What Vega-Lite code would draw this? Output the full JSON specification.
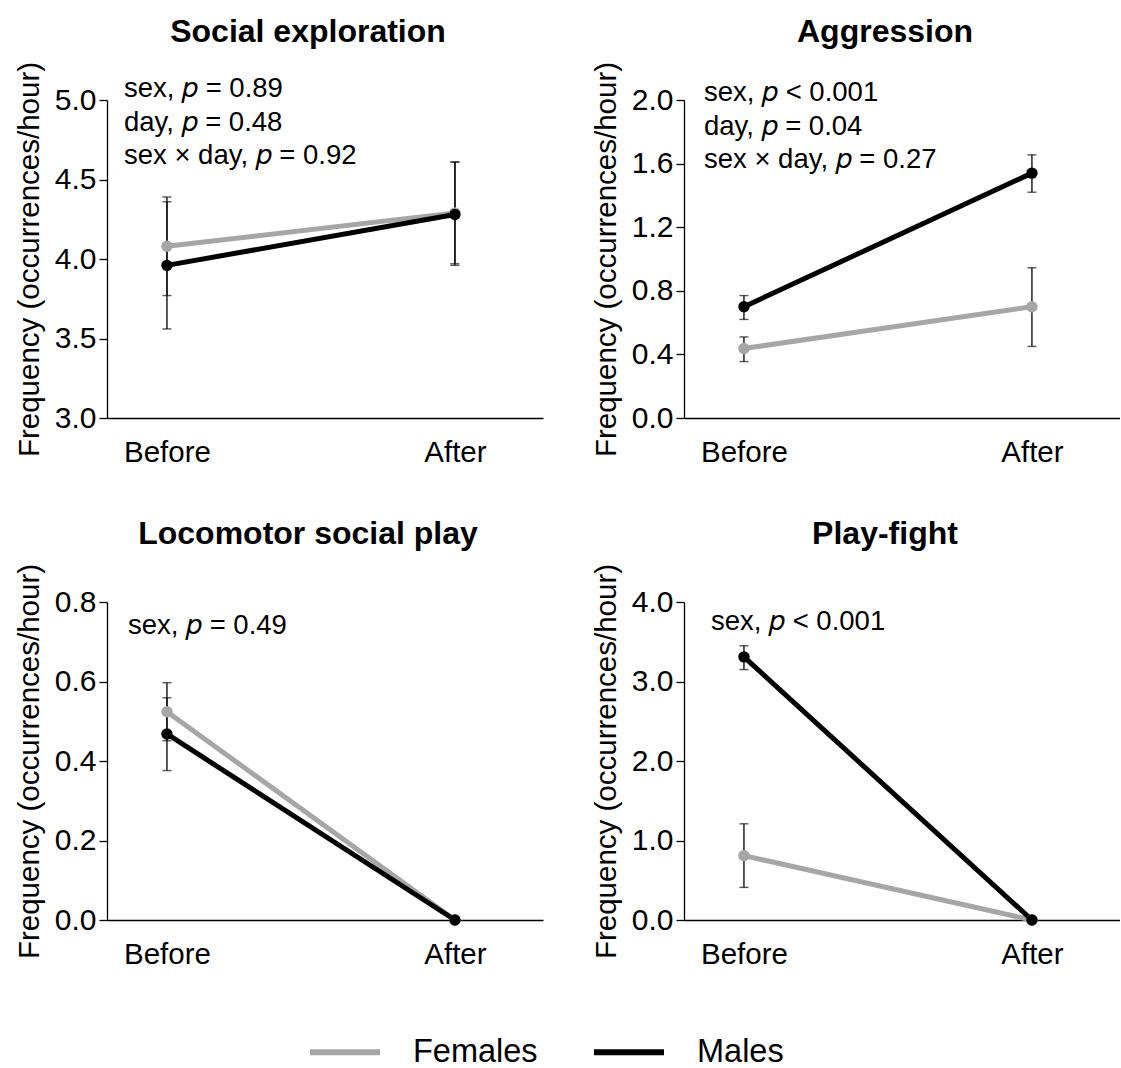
{
  "$schema": "https://vega.github.io/schema/vega-lite/v6.json",
  "background": "white",
  "padding": {"left": 14, "top": 16, "right": 0, "bottom": 0},
  "datasets": {
    "stats": [
      {"panel": "Social exploration", "day": "Before", "sex": "Females", "mean": 4.08, "lo": 3.77, "hi": 4.39},
      {"panel": "Social exploration", "day": "After", "sex": "Females", "mean": 4.29, "lo": 3.97, "hi": 4.61},
      {"panel": "Social exploration", "day": "Before", "sex": "Males", "mean": 3.96, "lo": 3.56, "hi": 4.36},
      {"panel": "Social exploration", "day": "After", "sex": "Males", "mean": 4.28, "lo": 3.96, "hi": 4.61},
      {"panel": "Aggression", "day": "Before", "sex": "Females", "mean": 0.437, "lo": 0.355, "hi": 0.51},
      {"panel": "Aggression", "day": "After", "sex": "Females", "mean": 0.70, "lo": 0.45, "hi": 0.945},
      {"panel": "Aggression", "day": "Before", "sex": "Males", "mean": 0.70, "lo": 0.62, "hi": 0.77},
      {"panel": "Aggression", "day": "After", "sex": "Males", "mean": 1.54, "lo": 1.42, "hi": 1.655},
      {"panel": "Locomotor social play", "day": "Before", "sex": "Females", "mean": 0.524, "lo": 0.451, "hi": 0.597},
      {"panel": "Locomotor social play", "day": "After", "sex": "Females", "mean": 0, "lo": 0, "hi": 0},
      {"panel": "Locomotor social play", "day": "Before", "sex": "Males", "mean": 0.468, "lo": 0.376, "hi": 0.559},
      {"panel": "Locomotor social play", "day": "After", "sex": "Males", "mean": 0, "lo": 0, "hi": 0},
      {"panel": "Play-fight", "day": "Before", "sex": "Females", "mean": 0.81, "lo": 0.41, "hi": 1.21},
      {"panel": "Play-fight", "day": "After", "sex": "Females", "mean": 0, "lo": 0, "hi": 0},
      {"panel": "Play-fight", "day": "Before", "sex": "Males", "mean": 3.31, "lo": 3.15, "hi": 3.45},
      {"panel": "Play-fight", "day": "After", "sex": "Males", "mean": 0, "lo": 0, "hi": 0}
    ],
    "notes": [
      {"panel": "Social exploration", "y": 5.068, "label": "sex, 𝑝 = 0.89"},
      {"panel": "Social exploration", "y": 4.858, "label": "day, 𝑝 = 0.48"},
      {"panel": "Social exploration", "y": 4.65, "label": "sex × day, 𝑝 = 0.92"},
      {"panel": "Aggression", "y": 2.044, "label": "sex, 𝑝 < 0.001"},
      {"panel": "Aggression", "y": 1.833, "label": "day, 𝑝 = 0.04"},
      {"panel": "Aggression", "y": 1.623, "label": "sex × day, 𝑝 = 0.27"},
      {"panel": "Locomotor social play", "y": 0.7395, "label": "sex, 𝑝 = 0.49"},
      {"panel": "Play-fight", "y": 3.749, "label": "sex, 𝑝 < 0.001"}
    ]
  },
  "columns": 2,
  "spacing": {"row": 51, "column": 48},
  "concat": [
    {
      "title": "Social exploration",
      "width": 436, "height": 318,
      "layer": [
        {"data": {"name": "stats"}, "transform": [{"filter": "datum.panel === 'Social exploration'"}],
         "mark": {"type": "errorbar", "ticks": {"size": 9, "thickness": 1.4}, "color": "#111111", "thickness": 1.4},
         "encoding": {"x": {"field": "day", "type": "ordinal", "sort": ["Before", "After"], "scale": {"type": "point", "padding": 0.257, "align": 0.405}},
                      "y": {"field": "lo", "type": "quantitative", "scale": {"domain": [3, 5]}, "axis": {"values": [3, 3.5, 4, 4.5, 5], "title": "Frequency (occurrences/hour)"}},
                      "y2": {"field": "hi"}}},
        {"data": {"name": "stats"}, "transform": [{"filter": "datum.panel === 'Social exploration'"}],
         "mark": {"type": "line", "strokeWidth": 5},
         "encoding": {"x": {"field": "day", "type": "ordinal", "sort": ["Before", "After"]}, "y": {"field": "mean", "type": "quantitative"}, "color": {"field": "sex", "type": "nominal"}}},
        {"data": {"name": "stats"}, "transform": [{"filter": "datum.panel === 'Social exploration'"}],
         "mark": {"type": "point", "filled": true, "size": 130, "opacity": 1},
         "encoding": {"x": {"field": "day", "type": "ordinal", "sort": ["Before", "After"]}, "y": {"field": "mean", "type": "quantitative"}, "color": {"field": "sex", "type": "nominal"}}},
        {"data": {"name": "notes"}, "transform": [{"filter": "datum.panel === 'Social exploration'"}],
         "mark": {"type": "text", "align": "left", "baseline": "middle", "dx": -43, "fontSize": 27.5},
         "encoding": {"x": {"datum": "Before", "type": "ordinal"}, "y": {"field": "y", "type": "quantitative"}, "text": {"field": "label"}}}
      ]
    },
    {
      "title": "Aggression",
      "width": 436, "height": 318,
      "layer": [
        {"data": {"name": "stats"}, "transform": [{"filter": "datum.panel === 'Aggression'"}],
         "mark": {"type": "errorbar", "ticks": {"size": 9, "thickness": 1.4}, "color": "#111111", "thickness": 1.4},
         "encoding": {"x": {"field": "day", "type": "ordinal", "sort": ["Before", "After"], "scale": {"type": "point", "padding": 0.257, "align": 0.405}},
                      "y": {"field": "lo", "type": "quantitative", "scale": {"domain": [0, 2]}, "axis": {"values": [0, 0.4, 0.8, 1.2, 1.6, 2.0], "title": "Frequency (occurrences/hour)"}},
                      "y2": {"field": "hi"}}},
        {"data": {"name": "stats"}, "transform": [{"filter": "datum.panel === 'Aggression'"}],
         "mark": {"type": "line", "strokeWidth": 5},
         "encoding": {"x": {"field": "day", "type": "ordinal", "sort": ["Before", "After"]}, "y": {"field": "mean", "type": "quantitative"}, "color": {"field": "sex", "type": "nominal"}}},
        {"data": {"name": "stats"}, "transform": [{"filter": "datum.panel === 'Aggression'"}],
         "mark": {"type": "point", "filled": true, "size": 130, "opacity": 1},
         "encoding": {"x": {"field": "day", "type": "ordinal", "sort": ["Before", "After"]}, "y": {"field": "mean", "type": "quantitative"}, "color": {"field": "sex", "type": "nominal"}}},
        {"data": {"name": "notes"}, "transform": [{"filter": "datum.panel === 'Aggression'"}],
         "mark": {"type": "text", "align": "left", "baseline": "middle", "dx": -40, "fontSize": 27.5},
         "encoding": {"x": {"datum": "Before", "type": "ordinal"}, "y": {"field": "y", "type": "quantitative"}, "text": {"field": "label"}}}
      ]
    },
    {
      "title": "Locomotor social play",
      "width": 436, "height": 318,
      "layer": [
        {"data": {"name": "stats"}, "transform": [{"filter": "datum.panel === 'Locomotor social play'"}],
         "mark": {"type": "errorbar", "ticks": {"size": 9, "thickness": 1.4}, "color": "#111111", "thickness": 1.4},
         "encoding": {"x": {"field": "day", "type": "ordinal", "sort": ["Before", "After"], "scale": {"type": "point", "padding": 0.257, "align": 0.405}},
                      "y": {"field": "lo", "type": "quantitative", "scale": {"domain": [0, 0.8]}, "axis": {"values": [0, 0.2, 0.4, 0.6, 0.8], "title": "Frequency (occurrences/hour)"}},
                      "y2": {"field": "hi"}}},
        {"data": {"name": "stats"}, "transform": [{"filter": "datum.panel === 'Locomotor social play'"}],
         "mark": {"type": "line", "strokeWidth": 5},
         "encoding": {"x": {"field": "day", "type": "ordinal", "sort": ["Before", "After"]}, "y": {"field": "mean", "type": "quantitative"}, "color": {"field": "sex", "type": "nominal"}}},
        {"data": {"name": "stats"}, "transform": [{"filter": "datum.panel === 'Locomotor social play'"}],
         "mark": {"type": "point", "filled": true, "size": 130, "opacity": 1},
         "encoding": {"x": {"field": "day", "type": "ordinal", "sort": ["Before", "After"]}, "y": {"field": "mean", "type": "quantitative"}, "color": {"field": "sex", "type": "nominal"}}},
        {"data": {"name": "notes"}, "transform": [{"filter": "datum.panel === 'Locomotor social play'"}],
         "mark": {"type": "text", "align": "left", "baseline": "middle", "dx": -39, "fontSize": 27.5},
         "encoding": {"x": {"datum": "Before", "type": "ordinal"}, "y": {"field": "y", "type": "quantitative"}, "text": {"field": "label"}}}
      ]
    },
    {
      "title": "Play-fight",
      "width": 436, "height": 318,
      "layer": [
        {"data": {"name": "stats"}, "transform": [{"filter": "datum.panel === 'Play-fight'"}],
         "mark": {"type": "errorbar", "ticks": {"size": 9, "thickness": 1.4}, "color": "#111111", "thickness": 1.4},
         "encoding": {"x": {"field": "day", "type": "ordinal", "sort": ["Before", "After"], "scale": {"type": "point", "padding": 0.257, "align": 0.405}},
                      "y": {"field": "lo", "type": "quantitative", "scale": {"domain": [0, 4]}, "axis": {"values": [0, 1, 2, 3, 4], "title": "Frequency (occurrences/hour)"}},
                      "y2": {"field": "hi"}}},
        {"data": {"name": "stats"}, "transform": [{"filter": "datum.panel === 'Play-fight'"}],
         "mark": {"type": "line", "strokeWidth": 5},
         "encoding": {"x": {"field": "day", "type": "ordinal", "sort": ["Before", "After"]}, "y": {"field": "mean", "type": "quantitative"}, "color": {"field": "sex", "type": "nominal"}}},
        {"data": {"name": "stats"}, "transform": [{"filter": "datum.panel === 'Play-fight'"}],
         "mark": {"type": "point", "filled": true, "size": 130, "opacity": 1},
         "encoding": {"x": {"field": "day", "type": "ordinal", "sort": ["Before", "After"]}, "y": {"field": "mean", "type": "quantitative"}, "color": {"field": "sex", "type": "nominal"}}},
        {"data": {"name": "notes"}, "transform": [{"filter": "datum.panel === 'Play-fight'"}],
         "mark": {"type": "text", "align": "left", "baseline": "middle", "dx": -33, "fontSize": 27.5},
         "encoding": {"x": {"datum": "Before", "type": "ordinal"}, "y": {"field": "y", "type": "quantitative"}, "text": {"field": "label"}}}
      ]
    }
  ],
  "resolve": {"scale": {"y": "independent", "x": "independent", "color": "shared"}, "axis": {"x": "independent", "y": "independent"}},
  "config": {
    "font": "Liberation Sans",
    "view": {"stroke": null},
    "range": {"category": ["#a6a6a6", "#000000"]},
    "title": {"fontSize": 32, "fontWeight": "bold", "color": "#000000", "anchor": "middle", "offset": 12, "dx": -17},
    "axis": {"grid": false, "domainColor": "#000000", "domainWidth": 1.3, "tickColor": "#000000", "tickWidth": 1.3,
             "labelColor": "#000000", "titleColor": "#000000", "labelFont": "Liberation Sans", "titleFont": "Liberation Sans"},
    "axisY": {"tickSize": 8, "labelFontSize": 30, "labelPadding": 3, "titleFontSize": 29.5, "titleFontWeight": "normal", "titlePadding": 10, "format": ".1f"},
    "axisX": {"ticks": false, "labelFontSize": 29.5, "labelAngle": 0, "labelPadding": 20, "title": null},
    "legend": {"orient": "bottom", "padding": 200, "offset": -155, "direction": "horizontal", "title": null, "symbolType": "stroke", "symbolStrokeWidth": 6, "symbolSize": 4900,
               "labelFontSize": 32.5, "labelColor": "#000000", "labelOffset": 30, "columnPadding": 44}
  }
}
